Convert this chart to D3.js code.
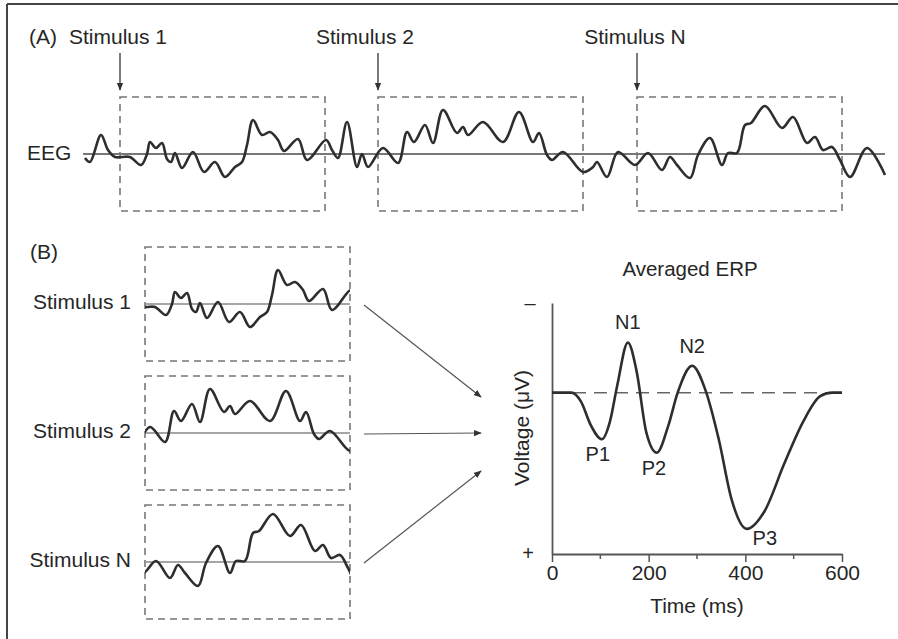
<!DOCTYPE html>
<html>
<head>
<meta charset="utf-8">
<script src="https://cdn.jsdelivr.net/npm/d3@7"></script>
<style>
  body { margin: 0; background: #fff; }
  svg { display: block; font-family: "Liberation Sans", Arial, sans-serif; }
  text { fill: #262626; }
</style>
</head>
<body>
<svg id="chart" width="898" height="639"></svg>
<script>
// continuous EEG trace: [time, amplitude]
const eegTrace = [
  [0, -4], [5, -8], [16, 19], [23, 4], [30, -3], [37, -3], [45, -3], [56, -11],
  [62, 0], [65, 12], [71, 6], [77, 11], [82, -5], [86, -8], [90, 1], [97, -14],
  [108, 2], [119, -18], [130, -8], [140, -23], [150, -13], [157, -8], [162, 9],
  [168, 34], [177, 19], [185, 22], [193, 14], [199, 3], [213, 15], [222, -6],
  [241, 14], [247, 4], [253, -4], [262, 32], [272, -13], [277, 0], [283, -13],
  [298, 6], [313, -9], [322, 22], [329, 12], [340, 29], [348, 11], [358, 44],
  [372, 21], [378, 27], [383, 19], [398, 32], [418, 12], [434, 42], [448, 12],
  [454, 21], [462, -1], [467, -6], [478, 2], [498, -18], [508, -13], [512, -8],
  [522, -23], [533, 2], [550, -11], [563, 1], [577, -16], [585, -3], [592, -11],
  [605, -24], [613, -1], [625, 16], [637, -11], [643, 1], [652, 1], [660, 29],
  [666, 31], [680, 48], [697, 26], [708, 37], [722, 11], [730, 17], [738, 4],
  [747, 7], [755, -6], [765, -23], [782, 6], [800, -21]
];

const stimuli = ["Stimulus 1", "Stimulus 2", "Stimulus N"];
const stimOnsets = [35, 293, 552];
const epochLength = 205;

// averaged ERP
const erpTime = [0, 40, 60, 80, 103, 120, 135, 157, 175, 195, 217, 240, 260, 290, 318, 345, 372, 403, 440, 480, 520, 555, 580, 600];
const erpVolt = [0, 0, 0.5, 1.8, 2.6, 1.6, -0.4, -2.8, -1.2, 2.2, 3.35, 1.9, 0, -1.5, -0.1, 2.6, 6.0, 7.6, 6.6, 4.0, 1.6, 0.2, 0, 0];
const erpPeaks = ["P1", "N1", "P2", "N2", "P3"];
const peakTimes = [103, 157, 217, 290, 403];
const peakVolts = [2.6, -2.8, 3.35, -1.5, 7.6];
const majorTicks = [0, 200, 400, 600];
const minorTicks = [100, 300, 500];

const svg = d3.select("#chart");

svg.append("defs").append("marker")
    .attr("id", "head")
    .attr("viewBox", "0 0 10 10")
    .attr("refX", 9).attr("refY", 5)
    .attr("markerWidth", 8).attr("markerHeight", 8)
    .attr("markerUnits", "userSpaceOnUse")
    .attr("orient", "auto")
    .append("path").attr("d", "M0,1 L10,5 L0,9 Z").attr("fill", "#333");

// frame
svg.append("line").attr("x1", 7).attr("x2", 898).attr("y1", 4).attr("y2", 4)
    .attr("stroke", "#444").attr("stroke-width", 2);
svg.append("line").attr("x1", 7).attr("x2", 7).attr("y1", 4).attr("y2", 639)
    .attr("stroke", "#444").attr("stroke-width", 2);

// ---------- panel A ----------
const x = d3.scaleLinear().domain([0, 800]).range([85, 885]);
const baseA = 154;
const y = d3.scaleLinear().domain([-60, 60]).range([baseA + 60, baseA - 60]);

const eegLine = d3.line()
    .x(d => x(d[0]))
    .y(d => y(d[1]))
    .curve(d3.curveCatmullRom.alpha(0.5));

const boxTop = y(57), boxBottom = y(-57);

svg.append("text").attr("x", 29).attr("y", 44).attr("font-size", 21).text("(A)");
svg.append("text").attr("x", 27).attr("y", 160).attr("font-size", 21).text("EEG");

svg.append("line")
    .attr("x1", 83).attr("x2", x(800)).attr("y1", baseA).attr("y2", baseA)
    .attr("stroke", "#777").attr("stroke-width", 1.8);

const stimLabelX = [118, 365, 635];
stimOnsets.forEach((t, i) => {
  svg.append("rect")
      .attr("x", x(t)).attr("y", boxTop)
      .attr("width", x(t + epochLength) - x(t)).attr("height", boxBottom - boxTop)
      .attr("fill", "none").attr("stroke", "#777").attr("stroke-width", 1.6)
      .attr("stroke-dasharray", "7,5");
  svg.append("line")
      .attr("x1", x(t)).attr("x2", x(t)).attr("y1", 53).attr("y2", 90)
      .attr("stroke", "#333").attr("stroke-width", 1.3)
      .attr("marker-end", "url(#head)");
  svg.append("text")
      .attr("x", stimLabelX[i]).attr("y", 44)
      .attr("text-anchor", "middle").attr("font-size", 21)
      .text(stimuli[i]);
});

svg.append("path")
    .datum(eegTrace)
    .attr("d", eegLine)
    .attr("fill", "none").attr("stroke", "#2e2e2e").attr("stroke-width", 2.6);

// ---------- panel B ----------
svg.append("text").attr("x", 30).attr("y", 259).attr("font-size", 21).text("(B)");

const epochLeft = 145;
const epochBases = [304, 433, 562];
const defs = svg.select("defs");

stimOnsets.forEach((t, i) => {
  const g = svg.append("g")
      .attr("transform", `translate(${epochLeft - x(t)},${epochBases[i] - baseA})`);
  defs.append("clipPath").attr("id", "clip" + i)
      .append("rect")
      .attr("x", x(t)).attr("y", boxTop - 5)
      .attr("width", x(t + epochLength) - x(t)).attr("height", boxBottom - boxTop + 10);
  g.append("rect")
      .attr("x", x(t)).attr("y", boxTop)
      .attr("width", x(t + epochLength) - x(t)).attr("height", boxBottom - boxTop)
      .attr("fill", "none").attr("stroke", "#777").attr("stroke-width", 1.6)
      .attr("stroke-dasharray", "7,5");
  g.append("line")
      .attr("x1", x(t)).attr("x2", x(t + epochLength))
      .attr("y1", baseA).attr("y2", baseA)
      .attr("stroke", "#888").attr("stroke-width", 1.6);
  g.append("path")
      .datum(eegTrace)
      .attr("clip-path", `url(#clip${i})`)
      .attr("d", eegLine)
      .attr("fill", "none").attr("stroke", "#2e2e2e").attr("stroke-width", 2.6);
  svg.append("text")
      .attr("x", 131).attr("y", epochBases[i] + 5)
      .attr("text-anchor", "end").attr("font-size", 21)
      .text(stimuli[i]);
});

// arrows into the average
const arrowEnds = [397, 433, 471];
epochBases.forEach((b, i) => {
  svg.append("line")
      .attr("x1", 364).attr("y1", b + 1)
      .attr("x2", 481).attr("y2", arrowEnds[i])
      .attr("stroke", "#555").attr("stroke-width", 1.2)
      .attr("marker-end", "url(#head)");
});

// ---------- averaged ERP ----------
const ex = d3.scaleLinear().domain([0, 600]).range([552, 842]);
const ey = d3.scaleLinear().domain([-5, 9]).range([303, 554]);
const erp = erpTime.map((t, i) => [t, erpVolt[i]]);

svg.append("text").attr("x", 690).attr("y", 276)
    .attr("text-anchor", "middle").attr("font-size", 20.5).text("Averaged ERP");

svg.append("line")
    .attr("x1", ex(0)).attr("x2", ex(600)).attr("y1", ey(0)).attr("y2", ey(0))
    .attr("stroke", "#666").attr("stroke-width", 1.5)
    .attr("stroke-dasharray", "13,8");

const xAxis = svg.append("g")
    .attr("transform", `translate(0,${ey(9)})`)
    .call(d3.axisBottom(ex).tickValues(majorTicks).tickSize(8).tickSizeOuter(0).tickPadding(3));
xAxis.select(".domain").attr("stroke", "#555").attr("stroke-width", 1.8);
xAxis.selectAll(".tick line").attr("stroke", "#555").attr("stroke-width", 1.5);
xAxis.selectAll(".tick text")
    .attr("font-size", 21).attr("font-family", "Liberation Sans, Arial, sans-serif")
    .attr("fill", "#262626");
xAxis.selectAll(".minor").data(minorTicks).enter().append("line")
    .attr("x1", d => ex(d)).attr("x2", d => ex(d)).attr("y1", 0).attr("y2", 5)
    .attr("stroke", "#555").attr("stroke-width", 1.5);

svg.append("g")
    .attr("transform", `translate(${ex(0)},0)`)
    .call(d3.axisLeft(ey).tickValues([]).tickSizeOuter(0))
    .select(".domain").attr("stroke", "#555").attr("stroke-width", 1.8);

svg.append("text").attr("x", 530).attr("y", ey(-5) + 7)
    .attr("text-anchor", "middle").attr("font-size", 20).text("–");
svg.append("text").attr("x", 528).attr("y", ey(9) + 6)
    .attr("text-anchor", "middle").attr("font-size", 20).text("+");

svg.append("text")
    .attr("transform", `translate(529,428) rotate(-90)`)
    .attr("text-anchor", "middle").attr("font-size", 21).text("Voltage (μV)");
svg.append("text").attr("x", 697).attr("y", 613)
    .attr("text-anchor", "middle").attr("font-size", 21).text("Time (ms)");

svg.append("path")
    .datum(erp)
    .attr("d", d3.line().x(d => ex(d[0])).y(d => ey(d[1])).curve(d3.curveMonotoneX))
    .attr("fill", "none").attr("stroke", "#2e2e2e").attr("stroke-width", 2.6);

// peak labels: positive peaks below, negative peaks above
const peakDx = [-4, 0, -3, 0, 18];
svg.selectAll(".peak").data(erpPeaks).enter().append("text")
    .attr("x", (d, i) => ex(peakTimes[i]) + peakDx[i])
    .attr("y", (d, i) => peakVolts[i] < 0 ? ey(peakVolts[i]) - 13 : ey(peakVolts[i]) + (i === 4 ? 16 : 22))
    .attr("text-anchor", "middle").attr("font-size", 20)
    .text(d => d);
</script>
</body>
</html>
